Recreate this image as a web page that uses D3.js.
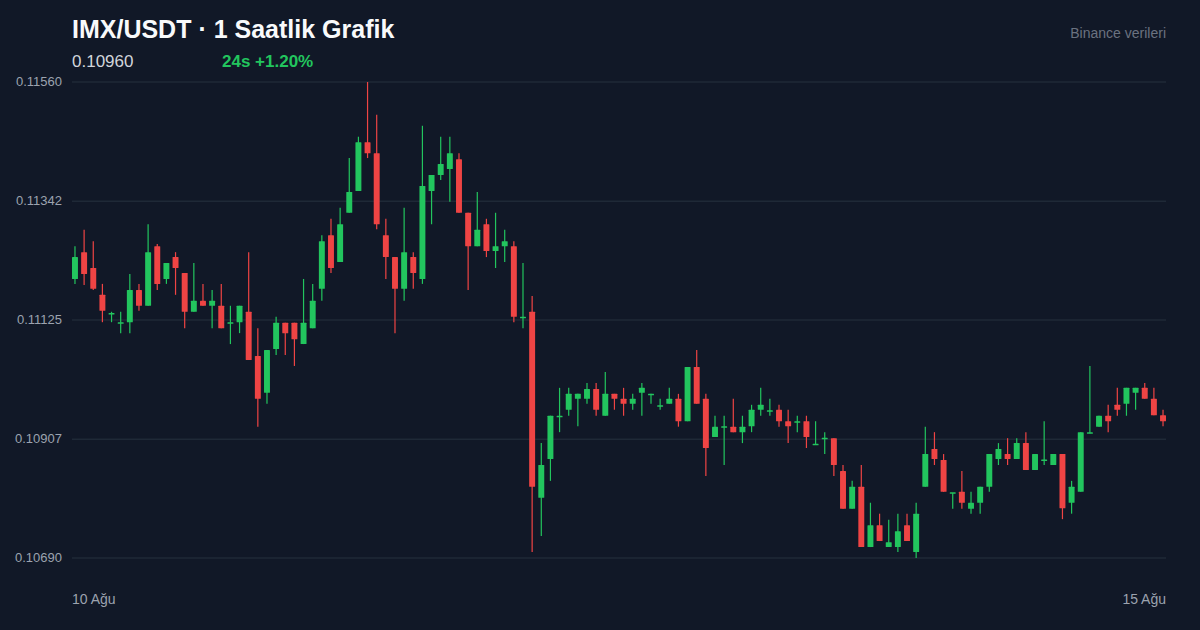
<!DOCTYPE html>
<html><head><meta charset="utf-8">
<script src="https://cdn.jsdelivr.net/npm/d3@7"></script>
<style>body{margin:0;background:#111827;}svg{display:block;font-family:"Liberation Sans",Arial,sans-serif;}</style>
</head><body><svg id="c" width="1200" height="630"></svg>
<script>
const open=[.11200,.11249,.11220,.11171,.11136,.11118,.11121,.11180,.11151,.11260,.11200,.11240,.11211,.11140,.11160,.11151,.11151,.11120,.11121,.11140,
.11059,.10992,.11072,.11120,.11120,.11081,.11110,.11182,.11280,.11231,.11321,.11361,.11450,.11430,.11280,.11240,.11182,.11240,.11200,.11361,
.11390,.11401,.11419,.11321,.11260,.11300,.11251,.11260,.11260,.11129,.11140,.10800,.10871,.10948,.10961,.10981,.10981,.10999,.10950,.10990,
.10981,.10972,.10992,.10988,.10967,.10972,.10981,.10940,.11039,.10981,.10911,.10929,.10930,.10920,.10931,.10961,.10958,.10961,.10940,.10938,
.10940,.10897,.10908,.10909,.10849,.10780,.10820,.10710,.10750,.10710,.10710,.10750,.10701,.10820,.10889,.10869,.10808,.10811,.10780,.10791,
.10820,.10871,.10880,.10871,.10900,.10851,.10868,.10860,.10880,.10791,.10811,.10918,.10930,.10950,.10970,.10972,.10992,.11001,.10981,.10951];
const high=[.11260,.11290,.11269,.11191,.11140,.11140,.11209,.11191,.11300,.11264,.11229,.11249,.11211,.11229,.11191,.11180,.11191,.11151,.11151,.11249,
.11110,.11070,.11131,.11120,.11120,.11200,.11191,.11280,.11310,.11330,.11421,.11460,.11560,.11500,.11310,.11240,.11330,.11249,.11480,.11390,
.11460,.11460,.11430,.11321,.11359,.11310,.11321,.11290,.11269,.11229,.11169,.10900,.10950,.11001,.11001,.10990,.11010,.11010,.11030,.10990,
.11001,.10990,.11010,.10990,.10981,.11001,.10990,.11039,.11070,.10990,.10950,.10950,.10981,.10950,.10970,.11001,.10981,.10970,.10961,.10950,
.10950,.10940,.10920,.10909,.10860,.10831,.10860,.10791,.10771,.10760,.10771,.10771,.10791,.10930,.10920,.10880,.10809,.10849,.10811,.10820,
.10880,.10900,.10909,.10909,.10920,.10880,.10940,.10880,.10880,.10831,.10920,.11041,.10950,.10970,.11001,.11001,.11001,.11010,.11001,.10961];
const low=[.11191,.11189,.11180,.11121,.11121,.11101,.11101,.11142,.11151,.11180,.11191,.11171,.11110,.11140,.11151,.11110,.11110,.11081,.11101,.11052,
.10930,.10972,.11061,.11061,.11041,.11081,.11110,.11160,.11211,.11231,.11321,.11361,.11421,.11291,.11200,.11101,.11160,.11182,.11191,.11300,
.11381,.11341,.11321,.11180,.11260,.11240,.11220,.11231,.11121,.11110,.10701,.10730,.10831,.10920,.10950,.10931,.10972,.10950,.10950,.10961,
.10950,.10961,.10950,.10972,.10961,.10972,.10930,.10940,.10972,.10840,.10911,.10860,.10920,.10900,.10920,.10950,.10950,.10930,.10900,.10920,
.10891,.10897,.10880,.10840,.10780,.10780,.10710,.10710,.10721,.10710,.10701,.10721,.10690,.10820,.10860,.10811,.10780,.10780,.10771,.10771,
.10811,.10860,.10860,.10871,.10851,.10851,.10860,.10860,.10761,.10771,.10811,.10918,.10930,.10920,.10950,.10950,.10961,.10981,.10951,.10931];
const close=[.11240,.11209,.11182,.11142,.11138,.11121,.11180,.11151,.11249,.11191,.11229,.11220,.11140,.11160,.11151,.11160,.11110,.11121,.11151,.11052,
.10981,.11070,.11120,.11101,.11090,.11120,.11160,.11269,.11220,.11300,.11359,.11450,.11430,.11300,.11240,.11182,.11249,.11211,.11370,.11390,
.11410,.11430,.11321,.11260,.11290,.11251,.11260,.11269,.11131,.11131,.10820,.10860,.10950,.10950,.10990,.10990,.10999,.10961,.10990,.10981,
.10972,.10981,.11001,.10990,.10969,.10981,.10940,.11039,.10972,.10891,.10930,.10931,.10920,.10930,.10961,.10970,.10960,.10940,.10931,.10940,
.10911,.10899,.10910,.10860,.10780,.10820,.10710,.10750,.10721,.10719,.10739,.10721,.10771,.10880,.10871,.10811,.10810,.10791,.10791,.10820,
.10880,.10889,.10871,.10900,.10851,.10880,.10870,.10880,.10781,.10820,.10920,.10920,.10950,.10940,.10961,.11001,.11001,.10981,.10951,.10940];
const yTicks=[0.10690,0.10907,0.11125,0.11342,0.11560];
const xLabels=["10 Ağu","15 Ağu"];
const title="IMX/USDT · 1 Saatlik Grafik", lastPrice="0.10960", change="24s +1.20%", source="Binance verileri";

const svg=d3.select("#c");
const L=72,R=1166,T=82,B=558;
const idx=d3.range(open.length);
const x=d3.scaleBand().domain(idx).range([L,R]).paddingInner(0.35).paddingOuter(0);
const y=d3.scaleLinear().domain([yTicks[0],yTicks[yTicks.length-1]]).range([B,T]);
const G="#22c55e",Rd="#ef4444";

svg.append("g").selectAll("line").data(yTicks).join("line")
 .attr("x1",L).attr("x2",R).attr("y1",d=>y(d)).attr("y2",d=>y(d)).attr("stroke","#1f2937").attr("stroke-width",1.5);
svg.append("g").selectAll("text").data(yTicks).join("text")
 .attr("x",62).attr("y",d=>y(d)+4).attr("text-anchor","end").attr("fill","#9ca3af").attr("font-size",13).text(d=>d.toFixed(5));

const c=svg.append("g").selectAll("g").data(idx).join("g");
const col=i=>close[i]>=open[i]?G:Rd;
c.append("line").attr("x1",i=>x(i)+x.bandwidth()/2).attr("x2",i=>x(i)+x.bandwidth()/2)
 .attr("y1",i=>y(high[i])).attr("y2",i=>y(low[i])).attr("stroke",col).attr("stroke-width",1.2);
c.append("rect").attr("x",i=>x(i)).attr("width",x.bandwidth())
 .attr("y",i=>y(Math.max(open[i],close[i])))
 .attr("height",i=>Math.max(1.5,Math.abs(y(open[i])-y(close[i]))))
 .attr("fill",col).attr("rx",0.5);

svg.append("text").attr("x",L).attr("y",604).attr("fill","#9ca3af").attr("font-size",14).text(xLabels[0]);
svg.append("text").attr("x",R).attr("y",604).attr("text-anchor","end").attr("fill","#9ca3af").attr("font-size",14).text(xLabels[1]);
svg.append("text").attr("x",L).attr("y",38).attr("fill","#f9fafb").attr("font-size",25).attr("font-weight","bold").text(title);
svg.append("text").attr("x",L).attr("y",67).attr("fill","#d1d5db").attr("font-size",17).text(lastPrice);
svg.append("text").attr("x",222).attr("y",67).attr("fill",G).attr("font-size",17).attr("font-weight","bold").text(change);
svg.append("text").attr("x",R).attr("y",38).attr("text-anchor","end").attr("fill","#6b7280").attr("font-size",14).text(source);
</script></body></html>
